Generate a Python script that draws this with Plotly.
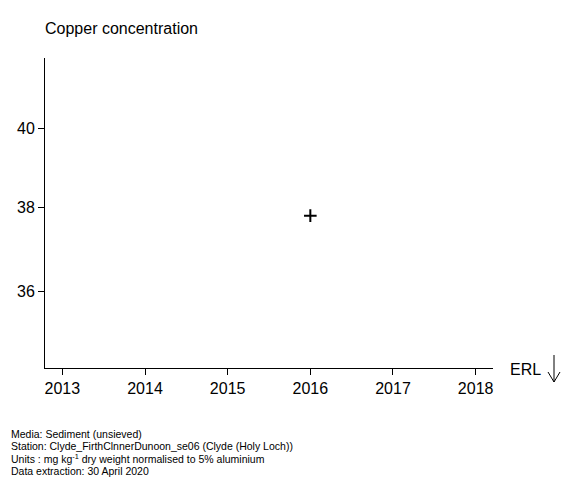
import numpy as np
import plotly.graph_objects as go

# data
years = [2016]
copper = [37.8]
x_ticks = [2013, 2014, 2015, 2016, 2017, 2018]
y_ticks = [36, 38, 40]
footer_lines = [
    "Media: Sediment (unsieved)",
    "Station: Clyde_FirthClnnerDunoon_se06 (Clyde (Holy Loch))",
    "Units : mg kg<sup>-1</sup> dry weight normalised to 5% aluminium",
    "Data extraction: 30 April 2020",
]

W, H = 580, 480
L, R, T, B = 45, 87, 58, 112
FONT = "Liberation Sans, Arial, sans-serif"


def px_x(p):
    return (p - L) / (W - L - R)


def px_y(p):
    return (H - B - p) / (H - B - T)


fig = go.Figure()
fig.add_trace(go.Scatter(
    x=years, y=copper, mode="markers",
    marker=dict(symbol="cross-thin", size=9, line=dict(width=2, color="black"), color="black"),
    showlegend=False, hoverinfo="x+y",
))

fig.update_layout(
    width=W, height=H,
    margin=dict(l=L, r=R, t=T, b=B),
    plot_bgcolor="white", paper_bgcolor="white",
    font=dict(family=FONT, size=16, color="black"),
    title=dict(text="Copper concentration", x=45 / W,
               xanchor="left", y=1 - 28 / H, yanchor="middle",
               font=dict(size=16, family=FONT, color="black")),
    xaxis=dict(range=[2012.79, 2018.21], tickvals=x_ticks, ticktext=[str(t) for t in x_ticks],
               showline=True, linecolor="black", linewidth=1, ticks="outside", ticklen=6,
               tickcolor="black", showgrid=False, zeroline=False),
    yaxis=dict(type="log", range=[np.log10(34.26), np.log10(41.85)], tickvals=y_ticks,
               ticktext=[str(t) for t in y_ticks],
               showline=True, linecolor="black", linewidth=1, ticks="outside", ticklen=6,
               tickcolor="black", showgrid=False, zeroline=False),
)

# ERL label with downward arrow
fig.add_annotation(text="ERL", xref="paper", yref="paper", x=px_x(525), y=px_y(369),
                   xanchor="center", yanchor="middle", showarrow=False,
                   font=dict(size=16, family=FONT, color="black"))
arrow = dict(color="black", width=1)
fig.add_shape(type="line", xref="paper", yref="paper",
              x0=px_x(554), x1=px_x(554), y0=px_y(355), y1=px_y(382), line=arrow)
fig.add_shape(type="line", xref="paper", yref="paper",
              x0=px_x(548), x1=px_x(554), y0=px_y(372), y1=px_y(382), line=arrow)
fig.add_shape(type="line", xref="paper", yref="paper",
              x0=px_x(560), x1=px_x(554), y0=px_y(372), y1=px_y(382), line=arrow)

# footer notes
for i, line in enumerate(footer_lines):
    fig.add_annotation(text=line, xref="paper", yref="paper",
                       x=px_x(9), y=px_y(434 + i * 12.2), xanchor="left", yanchor="middle",
                       showarrow=False, font=dict(size=10.5, family=FONT, color="black"))

# drop the browser's default body margin so the figure sits at the top-left corner
fig.write_html("out.html", config={"displayModeBar": False},
               post_script="document.body.style.margin='0';")
